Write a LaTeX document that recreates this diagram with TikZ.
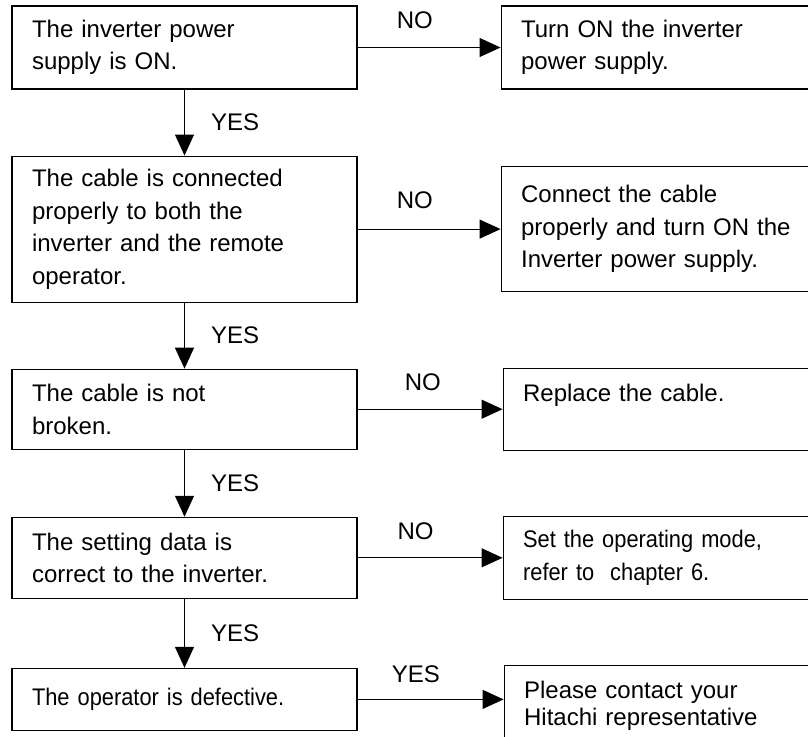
\documentclass[tikz,border=0pt]{standalone}
\usepackage{fontspec}
\setmainfont{Liberation Sans}
\newfontfamily\narrowfont[FakeStretch=0.91]{Liberation Sans}
\usepackage{tikz}
\usetikzlibrary{arrows.meta,positioning}

\begin{document}
\begin{tikzpicture}[x=1pt,y=-1pt,node distance=66pt and 143pt,>={Triangle[length=21pt,width=19pt]},font=\fontsize{24}{32.5}\selectfont]

\tikzset{
b/.style={
    draw,
    line width=1.1pt,
    minimum width=345pt,
    text width=305pt,
    inner xsep=20pt,
    inner ysep=4pt,
    align=left
},
a/.style={->,line width=1.1pt},
lab/.style={inner sep=0pt}
}

\useasboundingbox (0,0) rectangle (808,736);
\clip (0,0) rectangle (808,736);

\node[b,minimum height=83pt] (power) at (184.5,47.5) {The inverter power\\supply is ON.};
\node[b,minimum height=146pt,below=of power] (cable) {The cable is connected\\properly to both the\\inverter and the remote\\operator.};
\node[b,minimum height=80pt,below=of cable] (broken) {The cable is not\\broken.};
\node[b,minimum height=81pt,below=67pt of broken] (setting) {The setting data is\\correct to the inverter.};
\node[b,minimum height=62pt,below=69pt of setting] (operator) {\narrowfont The operator is defective.};

\node[b,minimum height=83pt,right=of power] (turnon) {Turn ON the inverter\\power supply.};
\node[b,minimum height=125pt,right=of cable] (connect) {Connect the cable\\properly and turn ON the\\Inverter power supply.};
\node[b,minimum height=82pt,right=145pt of broken] (replace) {Replace the cable.\\\mbox{}};
\node[b,minimum height=83pt,right=145pt of setting] (mode) {\narrowfont Set the operating mode,\\refer to\ \ chapter 6.};
\node[b,minimum height=80pt,right=146pt of operator.north east,anchor=north west,yshift=3pt,font=\fontsize{24}{27}\selectfont] (contact) {Please contact your\\Hitachi representative};

\draw[a] (power) -- node[lab,right=26pt]{YES} (cable);
\draw[a] (cable) -- node[lab,right=26pt]{YES} (broken);
\draw[a] (broken) -- node[lab,right=26pt]{YES} (setting);
\draw[a] (setting) -- node[lab,right=26pt]{YES} (operator);

\draw[a] (power) -- node[lab,above=18pt,pos=0.4]{NO} (turnon);
\draw[a] (cable) -- node[lab,above=20pt,pos=0.4]{NO} (connect);
\draw[a] (broken) -- node[lab,above=18pt,pos=0.45]{NO} (replace);
\draw[a] (setting) -- node[lab,above=18pt,pos=0.4]{NO} (mode);
\draw[a] (operator.east) -- node[lab,above=16pt,pos=0.4]{YES} (operator.east -| contact.west);

\end{tikzpicture}
\end{document}
